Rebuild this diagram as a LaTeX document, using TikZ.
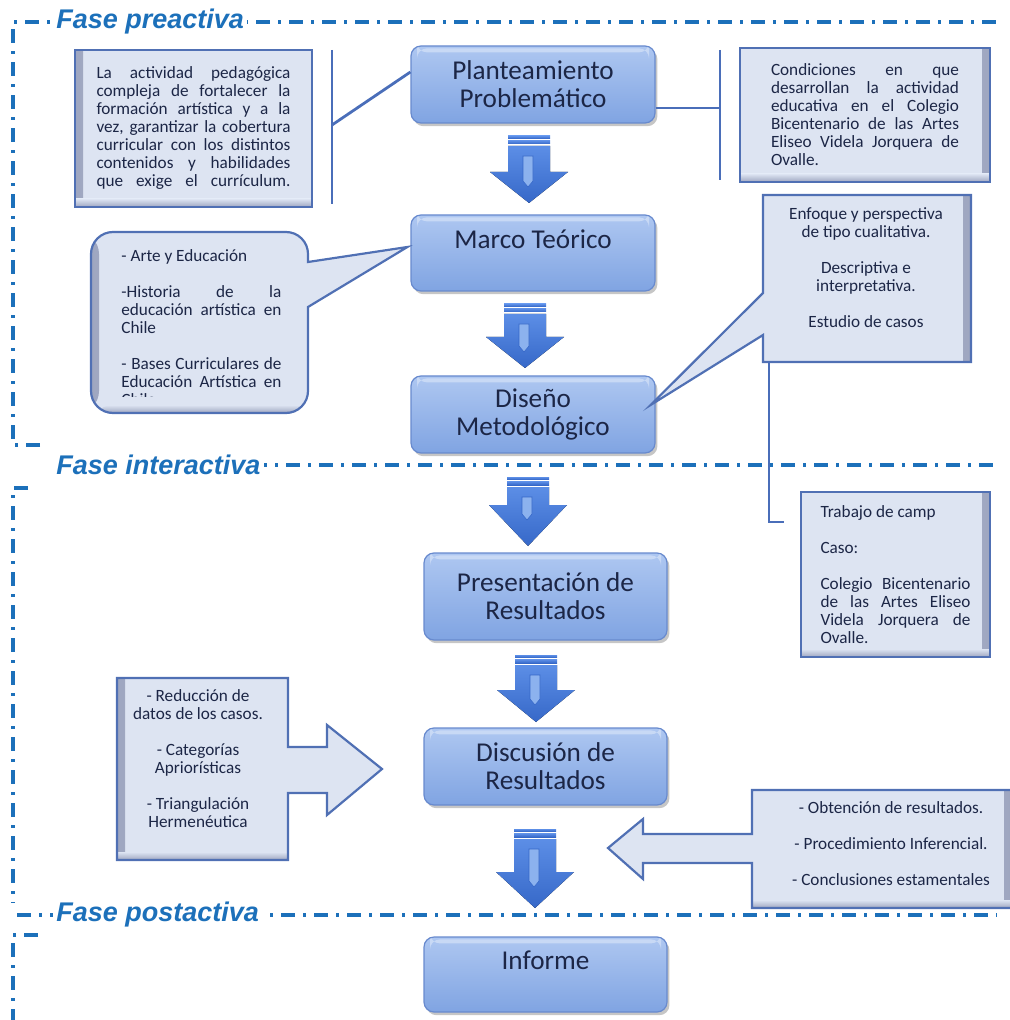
\documentclass[tikz,border=0pt]{standalone}
\usepackage{fontspec}
\setmainfont{Carlito}
\newfontfamily\phasefont{Liberation Sans}
\usetikzlibrary{shadows, positioning}

\definecolor{phaseblue}{RGB}{28,112,186}
\definecolor{boxtop}{RGB}{174,199,241}
\definecolor{boxbot}{RGB}{128,164,226}
\definecolor{boxedge}{RGB}{104,138,206}
\definecolor{txtnavy}{RGB}{28,38,70}
\definecolor{notebg}{RGB}{221,228,242}
\definecolor{noteedge}{RGB}{80,112,180}
\definecolor{noteshadow}{RGB}{158,166,192}
\definecolor{linkblue}{RGB}{74,110,185}
\definecolor{arrtop}{RGB}{92,142,230}
\definecolor{arrbot}{RGB}{54,104,200}
\definecolor{arrlight}{RGB}{140,178,238}

\newcommand{\boxfont}{\fontsize{13.6}{14}\selectfont}
\newcommand{\notefont}{\fontsize{8.6}{9}\selectfont}

\tikzset{
  mainbox/.style={draw=boxedge, line width=0.6pt, rounded corners=5pt,
    top color=boxtop, bottom color=boxbot, minimum width=122pt,
    align=center, font=\boxfont, text=txtnavy,
    drop shadow={shadow xshift=1.2pt, shadow yshift=-1.6pt, opacity=.45},
    path picture={\fill[white, opacity=.35] ([xshift=3pt, yshift=-1.2pt]path picture bounding box.north west) rectangle ([xshift=-3pt, yshift=-3.2pt]path picture bounding box.north east);}},
  notebox/.style={fill=notebg, draw=noteedge, line width=1.1pt, font=\notefont, text=txtnavy},
  shadeleft/.style={path picture={
    \shade[left color=noteshadow, right color=notebg] (path picture bounding box.south west) rectangle ([xshift=4pt]path picture bounding box.north west);
    \shade[bottom color=noteshadow, top color=notebg] (path picture bounding box.south west) rectangle ([yshift=4pt]path picture bounding box.south east);}},
  shaderight/.style={path picture={
    \shade[right color=noteshadow, left color=notebg] (path picture bounding box.south east) rectangle ([xshift=-4pt]path picture bounding box.north east);
    \shade[bottom color=noteshadow, top color=notebg] (path picture bounding box.south west) rectangle ([yshift=4pt]path picture bounding box.south east);}},
  notetext/.style={font=\notefont, text=txtnavy, inner sep=0pt},
  linkline/.style={draw=linkblue, line width=1.4pt},
  phaseline/.style={draw=phaseblue, line width=1.7pt, dash pattern=on 7pt off 4pt on 1.5pt off 4pt},
  phasename/.style={font=\phasefont\bfseries\itshape\fontsize{13.5}{15}\selectfont, text=phaseblue, fill=white, inner sep=1.5pt, anchor=west},
  flowarrow/.style={top color=arrtop, bottom color=arrbot},
  arrowgleam/.style={fill=arrlight, draw=arrbot, line width=0.3pt},
}

\begin{document}
\begin{tikzpicture}[x=0.5pt, y=-0.5pt]
\useasboundingbox (0,0) rectangle (1009,1020);

% phase frames
\draw[phaseline] (40,445) -- (13,445) -- (13,22) -- (997,22);
\node[phasename] (preL) at (53,22) {Fase preactiva};
\draw[phaseline] (55,465) -- (997,465);
\node[phasename] (interL) at (53,465) {Fase interactiva};
\draw[phaseline] (28,488) -- (13,488) -- (13,903);
\draw[phaseline] (17,915) -- (997,915);
\node[phasename] (postL) at (53,915) {Fase postactiva\,};
\draw[phaseline] (38,935) -- (13,935) -- (13,1020);

% main steps
\node[mainbox, minimum height=38.5pt] (plan) at (533,84.5) {Planteamiento\\Problemático};
\node[mainbox, minimum height=38pt] (marco) at (533,253) {Marco Teórico\\\mbox{}};
\node[mainbox, minimum height=38.5pt] (diseno) at (533,414.5) {Diseño\\Metodológico};
\node[mainbox, minimum width=121.5pt, minimum height=43.5pt] (pres) at (545.5,596.5) {Presentación de\\Resultados};
\node[mainbox, minimum width=121.5pt, minimum height=38.5pt] (disc) at (545.5,766.5) {Discusión de\\Resultados};
\node[mainbox, minimum width=121.5pt, minimum height=37.5pt] (inf) at (545.5,974.5) {Informe\\\mbox{}};

% block arrows between the steps
\foreach \cx/\ty/\hy/\py in {529/136/172/203, 525/304/337/368, 528/477/505/546, 536/655/690/722, 535/829/872/908}{
  \fill[flowarrow] (\cx-21,\ty) rectangle (\cx+21,\ty+2.5);
  \fill[flowarrow] (\cx-21,\ty+4.5) rectangle (\cx+21,\ty+8);
  \fill[flowarrow] (\cx-21,\ty+10) -- (\cx+21,\ty+10) -- (\cx+21,\hy) -- (\cx+39,\hy) -- (\cx,\py) -- (\cx-39,\hy) -- (\cx-21,\hy) -- cycle;
  \filldraw[arrowgleam] (\cx-6,\ty+20) -- (\cx+4,\ty+20) -- (\cx+4,\hy+9) -- (\cx-1,\hy+15) -- (\cx-6,\hy+9) -- cycle;
}

% notes on the planteamiento
\node[notebox, shadeleft, minimum width=118.5pt, minimum height=78.5pt] (tlbox) at (193.5,128.5)
  {\parbox{97pt}{\parfillskip=0pt La actividad pedagógica\linebreak compleja de fortalecer la\linebreak formación artística y a la\linebreak vez, garantizar la cobertura\linebreak curricular con los distintos\linebreak contenidos y habilidades\linebreak que exige el currículum.}};
\coordinate (brLtop) at (332,50);
\coordinate (brLbot) at (332,204);
\coordinate (brLmid) at (332,125);
\draw[linkline] (brLtop) -- (brLbot);
\draw[linkline] (brLmid) -- ([yshift=6.25pt]plan.west);

\node[notebox, shaderight, minimum width=125pt, minimum height=67pt] (trbox) at (865,115)
  {\parbox{94pt}{Condiciones en que\linebreak desarrollan la actividad\linebreak educativa en el Colegio\linebreak Bicentenario de las Artes\linebreak Eliseo Videla Jorquera de\linebreak Ovalle.}};
\coordinate (brRtop) at (720,50);
\coordinate (brRbot) at (720,180);
\coordinate (brRmid) at (720,108);
\draw[linkline] (brRtop) -- (brRbot);
\draw[linkline] ([yshift=-11.75pt]plan.east) -- (brRmid);

% callout on the marco teorico
\filldraw[notebox, shadeleft] (91,300) [rounded corners=11pt] -- (91,232) -- (308,232) [sharp corners] -- (308,262)
  -- ([xshift=-1.5pt, yshift=3pt]marco.west) -- (308,307) [rounded corners=11pt] -- (308,413) -- (91,413) -- cycle;
\begin{scope}
  \clip (91,232) rectangle (308,397);
  \node[notetext, anchor=north west] (lcalltxt) at (121,249)
    {\parbox{80pt}{- Arte y Educación\par\mbox{}\par -Historia de la\linebreak educación artística en\linebreak Chile\par\mbox{}\par - Bases Curriculares de\linebreak Educación Artística en\linebreak Chile}};
\end{scope}

% callout on the diseno
\filldraw[notebox, shaderight] (763,195) -- (971,195) -- (971,362) -- (763,362) -- (763,335)
  -- ([xshift=-2.5pt, yshift=4.75pt]diseno.east) -- (763,293) -- cycle;
\node[notetext, align=center] (rcalltxt) at (866,268)
  {Enfoque y perspectiva\\de tipo cualitativa.\\[9pt]Descriptiva e\\interpretativa.\\[9pt]Estudio de casos};
\coordinate (rcallfoot) at (769,362);
\coordinate (tbhook) at (784,522);
\draw[linkline] (rcallfoot) |- (tbhook);

\node[notebox, shaderight, minimum width=94.5pt, minimum height=82.5pt] (tbbox) at (895.5,574.5)
  {\parbox{75pt}{Trabajo de camp\par\mbox{}\par Caso:\par\mbox{}\par Colegio Bicentenario\linebreak de las Artes Eliseo\linebreak Videla Jorquera de\linebreak Ovalle.}};

% arrows into the discusion
\filldraw[notebox, shadeleft] (117,678) -- (288,678) -- (288,747) -- (327,747) -- (327,725) -- (382,769)
  -- (327,815) -- (327,793) -- (288,793) -- (288,860) -- (117,860) -- cycle;
\node[notetext, align=center] (lrtxt) at (198,759)
  {- Reducción de\\datos de los casos.\\[9pt]- Categorías\\Apriorísticas\\[9pt]- Triangulación\\Hermenéutica};

\filldraw[notebox, shaderight] (1012,790) -- (752,790) -- (752,834) -- (643,834) -- (643,819) -- (608,848)
  -- (643,879) -- (643,863) -- (752,863) -- (752,908) -- (1012,908) -- cycle;
\node[notetext, align=center] (rrtxt) at (891,844)
  {- Obtención de resultados.\\[9pt]- Procedimiento Inferencial.\\[9pt]- Conclusiones estamentales};
\end{tikzpicture}
\end{document}
